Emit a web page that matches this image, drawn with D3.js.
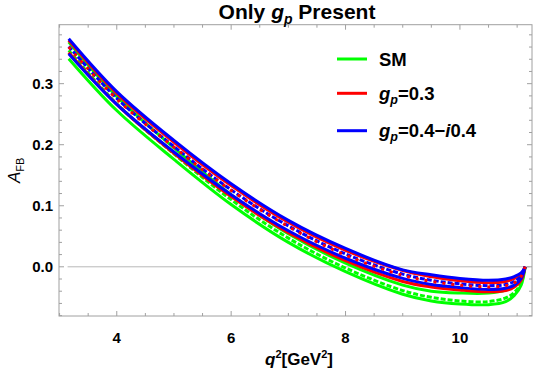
<!DOCTYPE html>
<html>
<head>
<meta charset="utf-8">
<script src="https://cdn.jsdelivr.net/npm/d3@7.9.0/dist/d3.min.js"></script>
<style>
  body { margin: 0; background: #fff; }
  svg text { font-family: "Liberation Sans", Arial, sans-serif; }
</style>
</head>
<body>
<svg id="chart" width="538" height="382"></svg>
<script>
// q^2 sample points (GeV^2)
const q2 = [3.16, 4, 5, 6, 7, 8, 9, 9.5, 10, 10.5, 10.8, 10.95, 11.07, 11.14];

// SM (green)
const smUpper  = [0.368, 0.279, 0.195, 0.118, 0.054, 0.006, -0.030, -0.040, -0.043, -0.043, -0.038, -0.031, -0.019, 0.0];
const smCenter = [0.3545, 0.267, 0.185, 0.110, 0.047, -0.002, -0.039, -0.050, -0.056, -0.057, -0.051, -0.042, -0.026, 0.0];
const smLower  = [0.341, 0.256, 0.176, 0.102, 0.040, -0.008, -0.045, -0.056, -0.061, -0.062, -0.057, -0.047, -0.030, 0.0];

// g_p = 0.3 (red)
const gp03Upper  = [0.371, 0.284, 0.204, 0.133, 0.073, 0.027, -0.006, -0.016, -0.023, -0.026, -0.024, -0.019, -0.012, 0.0];
const gp03Center = [0.360, 0.275, 0.196, 0.125, 0.066, 0.019, -0.014, -0.024, -0.030, -0.033, -0.031, -0.026, -0.016, 0.0];
const gp03Lower  = [0.351, 0.266, 0.186, 0.115, 0.056, 0.010, -0.024, -0.033, -0.038, -0.041, -0.039, -0.033, -0.022, 0.0];

// g_p = 0.4 - i0.4 (blue)
const gpCUpper  = [0.3736, 0.287, 0.207, 0.136, 0.076, 0.030, -0.005, -0.013, -0.019, -0.022, -0.020, -0.016, -0.010, 0.0];
const gpCCenter = [0.361, 0.276, 0.197, 0.126, 0.067, 0.021, -0.012, -0.022, -0.028, -0.031, -0.029, -0.024, -0.015, 0.0];
const gpCLower  = [0.349, 0.266, 0.188, 0.118, 0.059, 0.014, -0.019, -0.029, -0.034, -0.037, -0.035, -0.030, -0.019, 0.0];

const xTicks = [4, 6, 8, 10];
const yTicks = [0.0, 0.1, 0.2, 0.3];

const legendItems = [
  { color: '#00ff00', label: 'SM' },
  { color: '#ff0000', label: 'gp03' },
  { color: '#0000ff', label: 'gpC' }
];

const svg = d3.select('#chart');
const plotLeft = 59, plotRight = 532, plotTop = 24.7, plotBottom = 316;

const x = d3.scaleLinear().domain([2.99, 11.26]).range([plotLeft, plotRight]);
const y = d3.scaleLinear().domain([-0.0806, 0.3966]).range([plotBottom, plotTop]);

const frameColor = '#a0a0a0';

// zero axis line
svg.append('line')
  .attr('x1', x(3.14)).attr('x2', x(11.22))
  .attr('y1', y(0)).attr('y2', y(0))
  .attr('stroke', '#b8b8b8').attr('stroke-width', 1);

// frame
svg.append('rect')
  .attr('x', plotLeft).attr('y', plotTop)
  .attr('width', plotRight - plotLeft).attr('height', plotBottom - plotTop)
  .attr('fill', 'none').attr('stroke', frameColor).attr('stroke-width', 1);

// ticks (inward, mirrored on top/right)
const xMinor = d3.range(3, 11.01, 0.5);
xMinor.forEach((v) => {
  const major = Number.isInteger(v) && v % 2 === 0;
  const len = major ? 5 : 3;
  svg.append('line').attr('x1', x(v)).attr('x2', x(v))
    .attr('y1', plotBottom).attr('y2', plotBottom - len)
    .attr('stroke', frameColor);
  svg.append('line').attr('x1', x(v)).attr('x2', x(v))
    .attr('y1', plotTop).attr('y2', plotTop + len)
    .attr('stroke', frameColor);
});
const yMinor = d3.range(-0.08, 0.3801, 0.02);
yMinor.forEach((v) => {
  const major = Math.abs(Math.round(v * 10) - v * 10) < 1e-6;
  const len = major ? 5 : 3;
  svg.append('line').attr('x1', plotLeft).attr('x2', plotLeft + len)
    .attr('y1', y(v)).attr('y2', y(v))
    .attr('stroke', frameColor);
  svg.append('line').attr('x1', plotRight).attr('x2', plotRight - len)
    .attr('y1', y(v)).attr('y2', y(v))
    .attr('stroke', frameColor);
});

// tick labels
svg.selectAll('.xlab').data(xTicks).join('text')
  .attr('x', (d) => x(d)).attr('y', 343)
  .attr('text-anchor', 'middle')
  .attr('font-size', 15).attr('font-weight', 'bold')
  .text((d) => d);
svg.selectAll('.ylab').data(yTicks).join('text')
  .attr('x', 53).attr('y', (d) => y(d) + 5.5)
  .attr('text-anchor', 'end')
  .attr('font-size', 15).attr('font-weight', 'bold')
  .text((d) => d.toFixed(1));

// curves
const line = d3.line()
  .x((d) => x(d[0]))
  .y((d) => y(d[1]))
  .curve(d3.curveCatmullRom.alpha(0.5));

function drawLine(values, color, dash, width) {
  svg.append('path')
    .datum(q2.map((q, i) => [q, values[i]]))
    .attr('d', line)
    .attr('fill', 'none')
    .attr('stroke', color)
    .attr('stroke-width', width)
    .attr('stroke-dasharray', dash);
}

drawLine(smUpper, '#00ff00', null, 3);
drawLine(smLower, '#00ff00', null, 3);
drawLine(smCenter, '#00ff00', '5,2', 3);

drawLine(gp03Upper, '#ff0000', null, 3);
drawLine(gp03Lower, '#ff0000', null, 3);

drawLine(gpCUpper, '#0000ff', null, 3);
drawLine(gpCLower, '#0000ff', null, 3);
drawLine(gpCCenter, '#0000ff', '5,2', 3);

drawLine(gp03Center, '#ff0000', '3,6', 3);

// title
const title = svg.append('text')
  .attr('x', 297).attr('y', 19)
  .attr('text-anchor', 'middle')
  .attr('font-size', 21).attr('font-weight', 'bold');
title.append('tspan').text('Only ');
title.append('tspan').attr('font-style', 'italic').text('g');
title.append('tspan').attr('font-style', 'italic').attr('font-size', 14).attr('dy', 5).text('p');
title.append('tspan').attr('dy', -5).text(' Present');

// axis labels
const yl = svg.append('text')
  .attr('transform', `translate(20, ${(plotTop + plotBottom) / 2}) rotate(-90)`)
  .attr('text-anchor', 'middle')
  .attr('font-size', 17);
yl.append('tspan').attr('font-style', 'italic').text('A');
yl.append('tspan').attr('font-size', 11).attr('dy', 4).text('FB');

const xl = svg.append('text')
  .attr('x', 299).attr('y', 365)
  .attr('text-anchor', 'middle')
  .attr('font-size', 17).attr('font-weight', 'bold');
xl.append('tspan').attr('font-style', 'italic').text('q');
xl.append('tspan').attr('font-size', 11).attr('dy', -7).text('2');
xl.append('tspan').attr('dy', 7).text('[GeV');
xl.append('tspan').attr('font-size', 11).attr('dy', -7).text('2');
xl.append('tspan').attr('dy', 7).text(']');

// legend
const legendY = [59, 93.3, 130.7];
legendItems.forEach((item, i) => {
  const ly = legendY[i];
  svg.append('line')
    .attr('x1', 337).attr('x2', 367)
    .attr('y1', ly).attr('y2', ly)
    .attr('stroke', item.color).attr('stroke-width', 3);
  const t = svg.append('text')
    .attr('x', 379).attr('y', ly + 6.5)
    .attr('font-size', 18.5).attr('font-weight', 'bold');
  if (item.label === 'SM') {
    t.text('SM');
  } else {
    t.append('tspan').attr('font-style', 'italic').text('g');
    t.append('tspan').attr('font-style', 'italic').attr('font-size', 12.5).attr('dy', 4).text('p');
    if (item.label === 'gp03') {
      t.append('tspan').attr('dy', -4).text('=0.3');
    } else {
      t.append('tspan').attr('dy', -4).text('=0.4\u2212');
      t.append('tspan').attr('font-style', 'italic').text('i');
      t.append('tspan').text('0.4');
    }
  }
});
</script>
</body>
</html>
